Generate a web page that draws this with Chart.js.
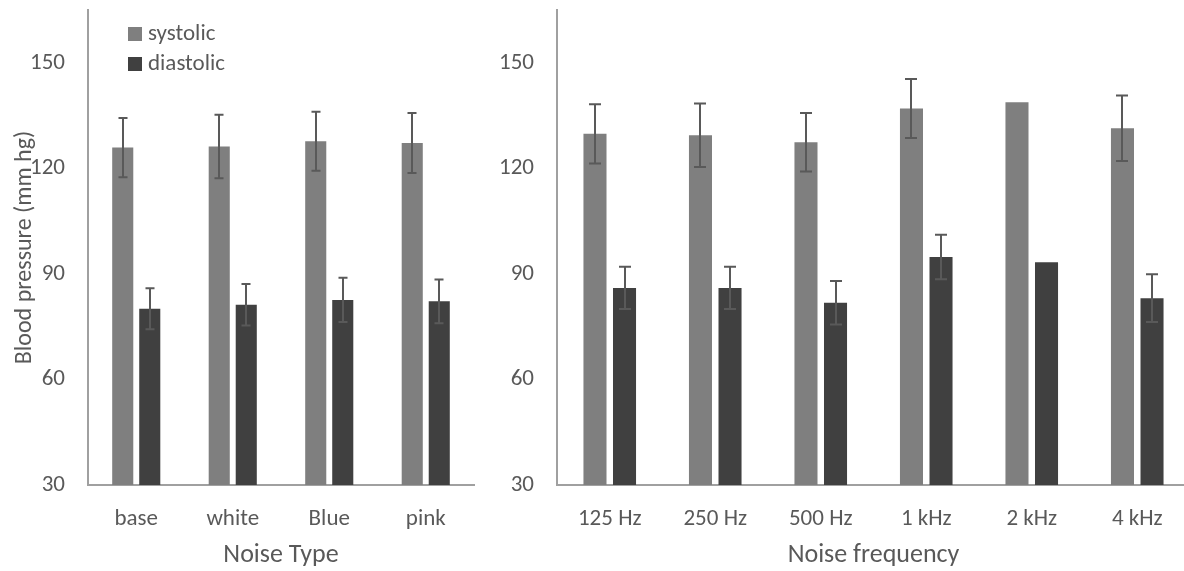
<!DOCTYPE html>
<html>
<head>
<meta charset="utf-8">
<script src="https://cdn.jsdelivr.net/npm/chart.js@4/dist/chart.umd.min.js"></script>
<style>
  html, body { margin: 0; padding: 0; background: #fff; overflow: hidden; }
  #wrap { position: relative; width: 1184px; height: 571px; overflow: hidden; }
  #leftBox { position: absolute; left: 0; top: 0; width: 500px; height: 571px; }
  #rightBox { position: absolute; left: 480px; top: 0; width: 710px; height: 571px; }
</style>
</head>
<body>
<div id="wrap">
  <div id="leftBox"><canvas id="typeChart" width="500" height="571"></canvas></div>
  <div id="rightBox"><canvas id="freqChart" width="710" height="571"></canvas></div>
</div>
<script>
// data
const seriesNames = ['systolic', 'diastolic'];
const yTicks = [30, 60, 90, 120, 150];

const noiseTypes = ['base', 'white', 'Blue', 'pink'];
const typeSystolic = [125.9, 126.2, 127.7, 127.2];
const typeSystolicErr = [8.4, 9.0, 8.4, 8.5];
const typeDiastolic = [80.1, 81.2, 82.6, 82.2];
const typeDiastolicErr = [5.8, 5.9, 6.3, 6.2];

const noiseFreqs = ['125 Hz', '250 Hz', '500 Hz', '1 kHz', '2 kHz', '4 kHz'];
const freqSystolic = [129.8, 129.4, 127.4, 137.0, 138.8, 131.4];
const freqSystolicErr = [8.4, 9.0, 8.3, 8.4, null, 9.3];
const freqDiastolic = [86.0, 86.0, 81.8, 94.8, 93.3, 83.1];
const freqDiastolicErr = [6.0, 6.0, 6.2, 6.3, null, 6.8];

const FONT = "Carlito, 'Open Sans', sans-serif";
const TEXT = '#595959';
const AXIS = '#a0a0a0';
const COLORS = ['#7f7f7f', '#404040'];

// draws +/- error bars on top of the bars
const errorBars = {
  id: 'errorBars',
  afterDatasetsDraw(chart, args, opts) {
    const ctx = chart.ctx;
    const y = chart.scales.y;
    ctx.save();
    ctx.strokeStyle = '#595959';
    ctx.lineWidth = 2;
    chart.data.datasets.forEach((ds, i) => {
      const meta = chart.getDatasetMeta(i);
      meta.data.forEach((bar, j) => {
        const e = ds.errors[j];
        if (e == null) return;
        const v = ds.data[j];
        const top = y.getPixelForValue(v + e);
        const bot = y.getPixelForValue(v - e);
        const x = Math.round(bar.x);
        ctx.beginPath();
        ctx.moveTo(x, top); ctx.lineTo(x, bot);
        ctx.moveTo(x - opts.cap, top); ctx.lineTo(x + opts.cap, top);
        ctx.moveTo(x - opts.cap, bot); ctx.lineTo(x + opts.cap, bot);
        ctx.stroke();
      });
    });
    ctx.restore();
  }
};

// legend sitting inside the plot area, top left
const innerLegend = {
  id: 'innerLegend',
  afterDraw(chart, args, opts) {
    if (!opts.show) return;
    const ctx = chart.ctx;
    ctx.save();
    ctx.font = '23px ' + FONT;
    ctx.textBaseline = 'middle';
    chart.data.datasets.forEach((ds, i) => {
      const cy = opts.y + i * opts.step;
      ctx.fillStyle = ds.backgroundColor;
      ctx.fillRect(opts.x, cy - 7, 14, 14);
      ctx.fillStyle = TEXT;
      ctx.fillText(ds.label, opts.x + 20, cy);
    });
    ctx.restore();
  }
};

function makeChart(id, labels, sys, sysErr, dia, diaErr, cfg) {
  return new Chart(document.getElementById(id).getContext('2d'), {
    type: 'bar',
    data: {
      labels: labels,
      datasets: [
        { label: seriesNames[0], data: sys, errors: sysErr, backgroundColor: COLORS[0] },
        { label: seriesNames[1], data: dia, errors: diaErr, backgroundColor: COLORS[1] }
      ]
    },
    options: {
      responsive: false,
      animation: false,
      categoryPercentage: 0.56,
      barPercentage: 0.78,
      layout: { padding: { top: 10, right: cfg.padRight, bottom: 0, left: 0 } },
      plugins: {
        legend: { display: false },
        tooltip: { enabled: false },
        errorBars: { cap: cfg.cap },
        innerLegend: { show: cfg.legend, x: 128, y: 34, step: 30 }
      },
      scales: {
        x: {
          grid: { display: false },
          border: { color: AXIS, width: 2 },
          ticks: { color: TEXT, font: { family: FONT, size: 23 }, padding: 12, maxRotation: 0 },
          title: { display: true, text: cfg.xTitle, color: TEXT, font: { family: FONT, size: 26 }, padding: { top: 0, bottom: 0 } },
          afterFit(scale) {
            scale.height = 86;
            scale.paddingLeft = 0;
            scale.paddingRight = 0;
          }
        },
        y: {
          min: 30,
          max: 165,
          grid: { display: false, drawTicks: false },
          border: { color: AXIS, width: 2 },
          ticks: { color: TEXT, font: { family: FONT, size: 23 }, padding: 23 },
          afterBuildTicks(scale) { scale.ticks = yTicks.map(v => ({ value: v })); },
          title: { display: cfg.yTitle != null, text: cfg.yTitle || '', color: TEXT, font: { family: FONT, size: 24 }, padding: { top: 10.5, bottom: 0 } },
          afterFit(scale) {
            scale.width = cfg.yWidth;
            scale.paddingTop = 0;
            scale.paddingBottom = 0;
          }
        }
      }
    },
    plugins: [errorBars, innerLegend]
  });
}

makeChart('typeChart', noiseTypes, typeSystolic, typeSystolicErr, typeDiastolic, typeDiastolicErr,
  { xTitle: 'Noise Type', yTitle: 'Blood pressure (mm hg)', yWidth: 88, padRight: 26, cap: 4.5, legend: true });
makeChart('freqChart', noiseFreqs, freqSystolic, freqSystolicErr, freqDiastolic, freqDiastolicErr,
  { xTitle: 'Noise frequency', yTitle: null, yWidth: 77, padRight: 0, cap: 6, legend: false });
</script>
</body>
</html>
